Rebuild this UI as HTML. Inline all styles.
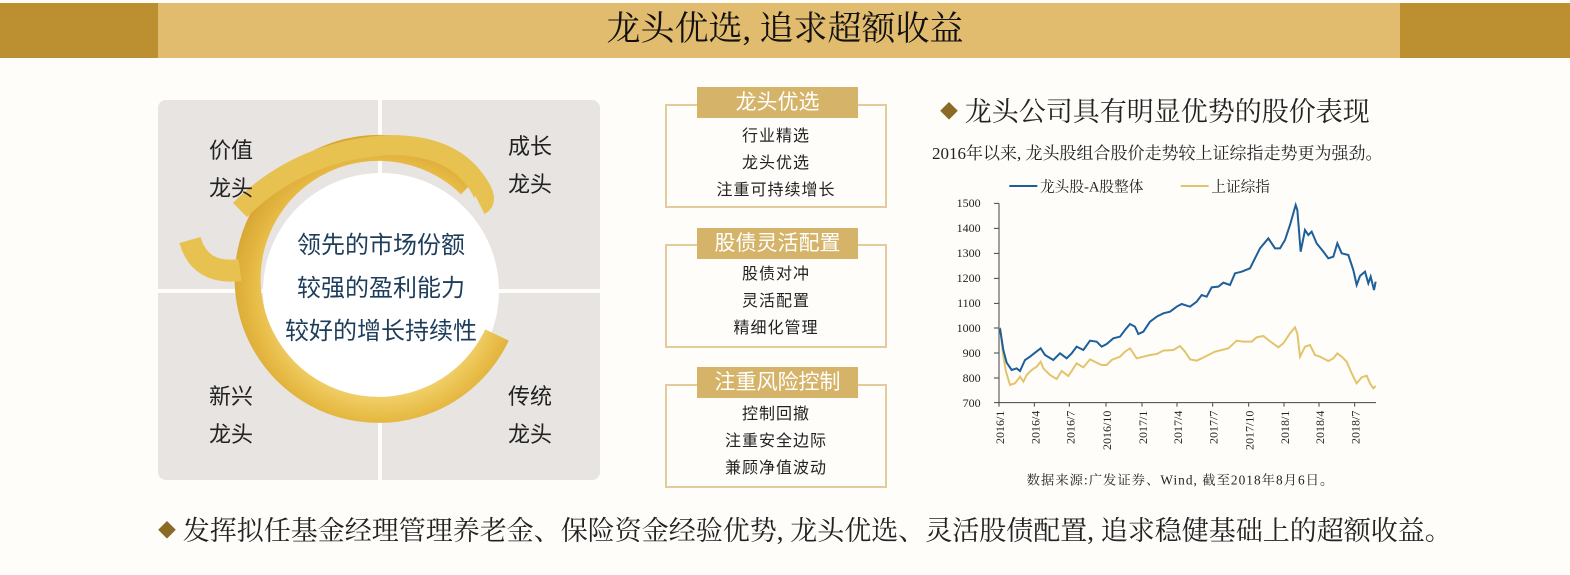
<!DOCTYPE html>
<html><head><meta charset="utf-8"><style>
body{margin:0;width:1570px;height:575px;background:#fffdfa;position:relative;overflow:hidden;font-family:"Liberation Serif","Noto Serif CJK SC",serif;color:#222}
.a{position:absolute}
.tb{position:absolute;background:#d5b46a;color:#fff;font-family:"Liberation Sans","Noto Sans CJK SC",sans-serif;font-size:21px;text-align:center;line-height:31px;left:697px;width:161px}
.bx{position:absolute;left:665px;width:222px;border:2px solid #e2cc9c;font-family:"Liberation Sans","Noto Sans CJK SC",sans-serif;font-size:16px;text-align:center;line-height:27px;letter-spacing:1px;color:#222}
.q{position:absolute;background:#e7e4e2;}
.ql{position:absolute;font-family:"Liberation Sans","Noto Sans CJK SC",sans-serif;font-size:22px;line-height:38px;color:#222}
</style></head><body>
<div class="a" style="left:0;top:3px;width:1570px;height:55px;background:#e2bc6e"></div>
<div class="a" style="left:0;top:3px;width:158px;height:55px;background:#bc8f31"></div>
<div class="a" style="left:1400px;top:3px;width:170px;height:55px;background:#bc8f31"></div>
<div class="a" style="left:0;top:7px;width:1570px;text-align:center;font-size:34px;line-height:46px;color:#111">龙头优选, 追求超额收益</div>

<div class="q" style="left:158px;top:100px;width:220px;height:189px;border-top-left-radius:8px"></div>
<div class="q" style="left:382px;top:100px;width:218px;height:189px;border-top-right-radius:8px"></div>
<div class="q" style="left:158px;top:293px;width:220px;height:187px;border-bottom-left-radius:8px"></div>
<div class="q" style="left:382px;top:293px;width:218px;height:187px;border-bottom-right-radius:8px"></div>
<svg class="a" style="left:0;top:0" width="1570" height="575">
<defs><radialGradient id="g" cx="381" cy="291" r="150" gradientUnits="userSpaceOnUse"><stop offset="0.7" stop-color="#f1d06a"/><stop offset="0.85" stop-color="#e7bb45"/><stop offset="1" stop-color="#d9a834"/></radialGradient></defs>
<circle cx="381" cy="291" r="118" fill="#fff"/>
<path d="M497 335 A131 131 0 1 1 470 185" fill="none" stroke="url(#g)" stroke-width="26"/>
<path d="M240 210 Q300 150 390 145 Q450 145 475 180 Q490 200 480 205" fill="none" stroke="#e8c250" stroke-width="20"/>
<path d="M190 240 Q200 275 240 270" fill="none" stroke="#e8c250" stroke-width="22"/>
</svg>
<div class="ql" style="left:209px;top:132px">价值<br>龙头</div>
<div class="ql" style="left:508px;top:128px">成长<br>龙头</div>
<div class="ql" style="left:209px;top:378px">新兴<br>龙头</div>
<div class="ql" style="left:508px;top:378px">传统<br>龙头</div>
<div class="a" style="left:250px;top:224px;width:262px;text-align:center;font-family:'Liberation Sans','Noto Sans CJK SC',sans-serif;font-size:24px;line-height:43px;color:#1d3d5a">领先的市场份额<br>较强的盈利能力<br>较好的增长持续性</div>

<div class="bx" style="top:104px;height:104px;padding-top:17px;box-sizing:border-box">行业精选<br>龙头优选<br>注重可持续增长</div>
<div class="tb" style="top:87px">龙头优选</div>
<div class="bx" style="top:244px;height:104px;padding-top:15px;box-sizing:border-box">股债对冲<br>灵活配置<br>精细化管理</div>
<div class="tb" style="top:228px">股债灵活配置</div>
<div class="bx" style="top:384px;height:104px;padding-top:15px;box-sizing:border-box">控制回撤<br>注重安全边际<br>兼顾净值波动</div>
<div class="tb" style="top:367px">注重风险控制</div>

<div class="a" style="left:940px;top:93px;font-size:27px;line-height:38px;color:#222"><span style="color:#8a6a25;font-size:18px;vertical-align:3px">◆</span> 龙头公司具有明显优势的股价表现</div>
<div class="a" style="left:932px;top:142px;font-size:17px;line-height:24px">2016年以来, 龙头股组合股价走势较上证综指走势更为强劲。</div>

<svg class="a" style="left:920px;top:170px;font-family:'Liberation Serif','Noto Serif CJK SC',serif" width="480" height="320" viewBox="0 0 1440 960">
<g font-size="36" fill="#222" text-anchor="end">
<text x="182" y="111">1500</text><text x="182" y="186">1400</text><text x="182" y="261">1300</text><text x="182" y="336">1200</text><text x="182" y="411">1100</text><text x="182" y="486">1000</text><text x="182" y="561">900</text><text x="182" y="636">800</text><text x="182" y="711">700</text>
</g>
<path d="M237 100V698H1368M222 100H237M222 175H237M222 250H237M222 325H237M222 400H237M222 474H237M222 549H237M222 624H237M222 698H237M237 698v12M343 698v12M448 698v12M558 698v12M666 698v12M771 698v12M878 698v12M986 698v12M1092 698v12M1197 698v12M1304 698v12" stroke="#444" stroke-width="3" fill="none"/>
<g font-size="36" fill="#222" text-anchor="end">
<text transform="translate(252,722) rotate(-90)">2016/1</text>
<text transform="translate(358,722) rotate(-90)">2016/4</text>
<text transform="translate(463,722) rotate(-90)">2016/7</text>
<text transform="translate(573,722) rotate(-90)">2016/10</text>
<text transform="translate(681,722) rotate(-90)">2017/1</text>
<text transform="translate(786,722) rotate(-90)">2017/4</text>
<text transform="translate(893,722) rotate(-90)">2017/7</text>
<text transform="translate(1001,722) rotate(-90)">2017/10</text>
<text transform="translate(1107,722) rotate(-90)">2018/1</text>
<text transform="translate(1212,722) rotate(-90)">2018/4</text>
<text transform="translate(1319,722) rotate(-90)">2018/7</text>
</g>
<polyline fill="none" stroke="#e3c46e" stroke-width="6" points="240,472 250,560 258,605 270,645 285,640 300,620 310,635 320,615 335,600 350,590 362,575 370,595 390,615 410,627 425,603 445,618 470,580 490,592 510,568 530,578 545,585 560,585 575,570 600,560 615,545 630,535 650,565 670,560 690,555 710,552 730,542 760,540 780,528 795,545 810,568 830,572 845,565 865,555 885,545 905,540 925,535 950,512 970,515 995,515 1010,502 1030,498 1045,510 1075,532 1090,520 1110,490 1125,472 1132,490 1140,560 1155,530 1170,525 1185,555 1200,560 1225,573 1240,565 1252,550 1265,560 1280,575 1295,610 1310,640 1325,622 1340,617 1350,640 1360,655 1367,648"/>
<polyline fill="none" stroke="#1d5f9a" stroke-width="6" points="240,475 250,540 260,578 275,600 290,595 300,603 315,570 330,560 345,548 362,535 375,555 400,570 420,550 440,565 455,550 470,530 490,540 510,512 530,515 545,530 560,522 580,505 600,500 615,480 630,462 645,470 655,492 670,485 690,455 710,440 730,430 750,425 770,410 785,402 810,410 830,395 845,375 860,380 875,352 895,350 910,338 930,345 945,310 965,305 990,295 1005,265 1020,235 1045,205 1065,235 1080,235 1095,210 1110,165 1127,105 1132,120 1142,245 1155,180 1165,195 1175,185 1190,220 1210,245 1225,265 1240,260 1252,220 1265,250 1285,255 1300,300 1310,345 1320,318 1335,305 1345,340 1352,320 1362,360 1367,335"/>
<line x1="268" y1="48" x2="352" y2="48" stroke="#1d5f9a" stroke-width="6"/>
<text x="360" y="64" font-size="44" fill="#222">龙头股-A股整体</text>
<line x1="782" y1="48" x2="866" y2="48" stroke="#e3c46e" stroke-width="6"/>
<text x="874" y="64" font-size="44" fill="#222">上证综指</text>
<text x="320" y="944" font-size="40" fill="#222" textLength="920">数据来源:广发证券、Wind, 截至2018年8月6日。</text>
</svg>

<div class="a" style="left:158px;top:512px;font-size:27px;line-height:38px;color:#222;white-space:nowrap"><span style="color:#8a6a25;font-size:18px;vertical-align:3px">◆</span> 发挥拟任基金经理管理养老金、保险资金经验优势, 龙头优选、灵活股债配置, 追求稳健基础上的超额收益。</div>
</body></html>
